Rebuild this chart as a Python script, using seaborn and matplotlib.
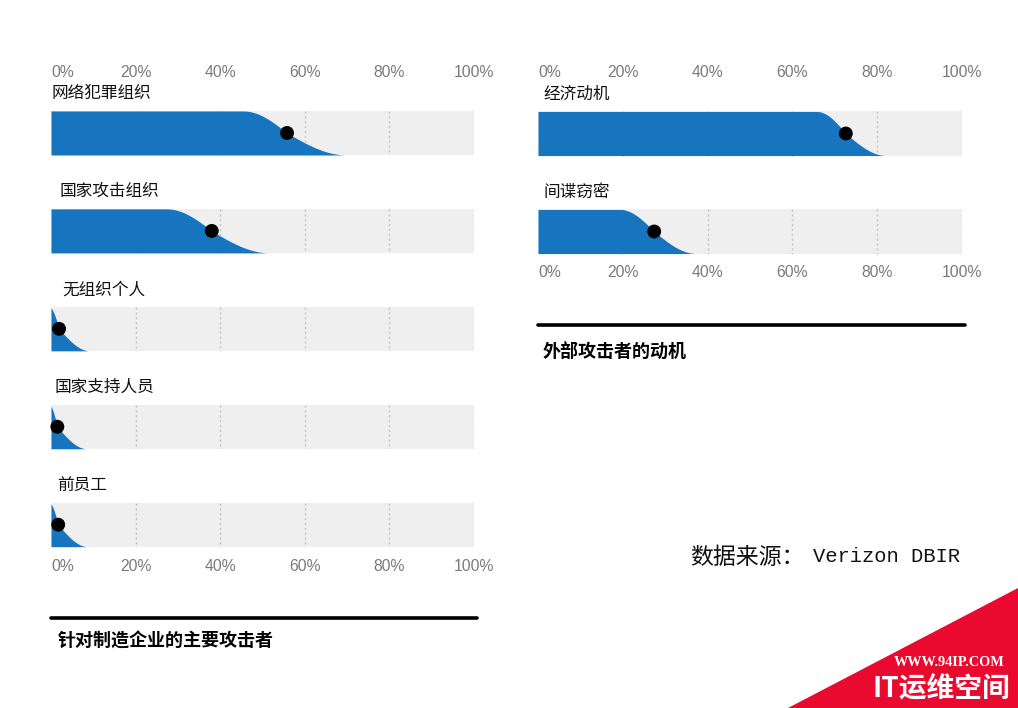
import numpy as np
import pandas as pd
import matplotlib
matplotlib.use("Agg")
import matplotlib.pyplot as plt
from matplotlib.lines import Line2D
from matplotlib.patches import Polygon
import seaborn as sns

# ---------------- data ----------------
left_cats = ["网络犯罪组织", "国家攻击组织", "无组织个人", "国家支持人员", "前员工"]
left_median = [55.8, 38.0, 1.9, 1.5, 1.7]
left_low = [45.4, 27.3, -0.5, -0.5, -0.5]
left_high = [70.0, 51.8, 9.2, 8.5, 8.7]

right_cats = ["经济动机", "间谍窃密"]
right_median = [72.6, 27.4]
right_low = [65.7, 19.3]
right_high = [82.2, 37.4]

tick_values = [0, 20, 40, 60, 80, 100]
tick_labels = ["0%", "20%", "40%", "60%", "80%", "100%"]

left_title = "针对制造企业的主要攻击者"
right_title = "外部攻击者的动机"
source_label = "数据来源："
source_name = "Verizon DBIR"

# ---------------- style ----------------
sns.set_theme(style="white")
CJK = ["Noto Sans CJK SC", "DejaVu Sans"]
plt.rcParams["font.family"] = ["Liberation Sans", "Noto Sans CJK SC", "DejaVu Sans"]

BLUE = "#1775c0"
GRAY = "#efefef"
GRID = "#c4c4c4"
TICK_C = "#7a7a7a"
BAR_H = 0.45

W, H = 1018, 708
fig = plt.figure(figsize=(W / 100, H / 100), dpi=100)

# label left edges in pixels (layout only)
left_label_px = [52, 60, 62, 55, 57]
right_label_px = [543, 543]


def survival(x, lo, med, hi):
    t = np.where(x <= med, 0.5 * (x - lo) / (med - lo), 0.5 + 0.5 * (x - med) / (hi - med))
    t = np.clip(t, 0, 1)
    return 0.5 * (1 + np.cos(np.pi * t))


def style_ticks(axis_obj, pad):
    axis_obj.set_xticks(tick_values)
    axis_obj.set_xticklabels(tick_labels)
    axis_obj.tick_params(axis="x", length=0, pad=pad, labelsize=11.3,
                         labelcolor=TICK_C)
    labels = axis_obj.get_xticklabels()
    labels[0].set_horizontalalignment("left")
    labels[0].set_x(0)


def draw_panel(ax, cats, med, lo, hi, ylim, ax_left_px, label_px):
    n = len(cats)
    pos = np.arange(n)
    df = pd.DataFrame({"pos": pos, "full": [100] * n})
    sns.barplot(data=df, x="full", y="pos", orient="h", native_scale=True,
                color=GRAY, saturation=1, width=BAR_H, ax=ax, zorder=1,
                linewidth=0)
    xs = np.linspace(0, 100, 2001)
    for i in range(n):
        ax.vlines([20, 40, 60, 80, 100], i - BAR_H / 2, i + BAR_H / 2,
                  colors=GRID, linestyles=(0, (1.5, 2)), lw=1, zorder=2)
        f = survival(xs, lo[i], med[i], hi[i])
        base = i + BAR_H / 2
        ax.fill_between(xs, base, base - f * BAR_H, where=f > 0.002,
                        color=BLUE, lw=0, zorder=3)
        lx = (label_px[i] - ax_left_px) / 4.235
        ax.text(lx, i - 0.40, cats[i], fontsize=12, family=CJK,
                ha="left", va="center", color="#111111")
    sns.scatterplot(x=med, y=pos, color="black", s=100, ax=ax, zorder=5,
                    edgecolor="none", legend=False, clip_on=False)
    ax.set_xlim(0, 100)
    ax.set_ylim(*ylim)
    ax.set_yticks([])
    ax.set_xlabel("")
    ax.set_ylabel("")
    style_ticks(ax, 2.0)
    ax.tick_params(axis="x", top=False, bottom=False, labeltop=False,
                   labelbottom=True)
    sec = ax.secondary_xaxis("top")
    style_ticks(sec, 0.0)
    for s in sec.spines.values():
        s.set_visible(False)
    for s in ax.spines.values():
        s.set_visible(False)
    ax.set_facecolor("none")


axL = fig.add_axes([51 / W, (H - 556) / H, 423 / W, 476 / H])
draw_panel(axL, left_cats, left_median, left_low, left_high, (4.32, -0.541),
           51, left_label_px)

axR = fig.add_axes([538 / W, (H - 262) / H, 424 / W, 182 / H])
draw_panel(axR, right_cats, right_median, right_low, right_high, (1.311, -0.546),
           538, right_label_px)

# dividers and titles
fig.add_artist(Line2D([51 / W, 477 / W], [1 - 618 / H] * 2, color="black", lw=2.6))
fig.add_artist(Line2D([538 / W, 965 / W], [1 - 325 / H] * 2, color="black", lw=2.6))
fig.text(58 / W, 1 - 641 / H, left_title, fontsize=13, weight="bold",
         family=CJK, va="center", ha="left", color="black")
fig.text(543 / W, 1 - 351 / H, right_title, fontsize=13, weight="bold",
         family=CJK, va="center", ha="left", color="black")

# source
fig.text(690 / W, 1 - 557 / H, source_label, fontsize=16.5,
         family=CJK, va="center", ha="left", color="#111111")
fig.text(813 / W, 1 - 557 / H, source_name, fontsize=14.8,
         family=["Liberation Mono"], va="center", ha="left", color="#111111")

# corner badge
fig.add_artist(Polygon([[788 / W, 0], [1, 0], [1, 1 - 588 / H]], closed=True,
                       transform=fig.transFigure, facecolor="#ea0a30",
                       edgecolor="none"))
fig.text(949 / W, 1 - 663 / H, "WWW.94IP.COM", fontsize=10.3, weight="bold",
         family=["Liberation Serif"], color="white", ha="center", va="center")
fig.text(941 / W, 1 - 688 / H, "IT运维空间", fontsize=20, weight="bold",
         family=CJK, color="white", ha="center", va="center")

fig.savefig("out.png", dpi=100)
